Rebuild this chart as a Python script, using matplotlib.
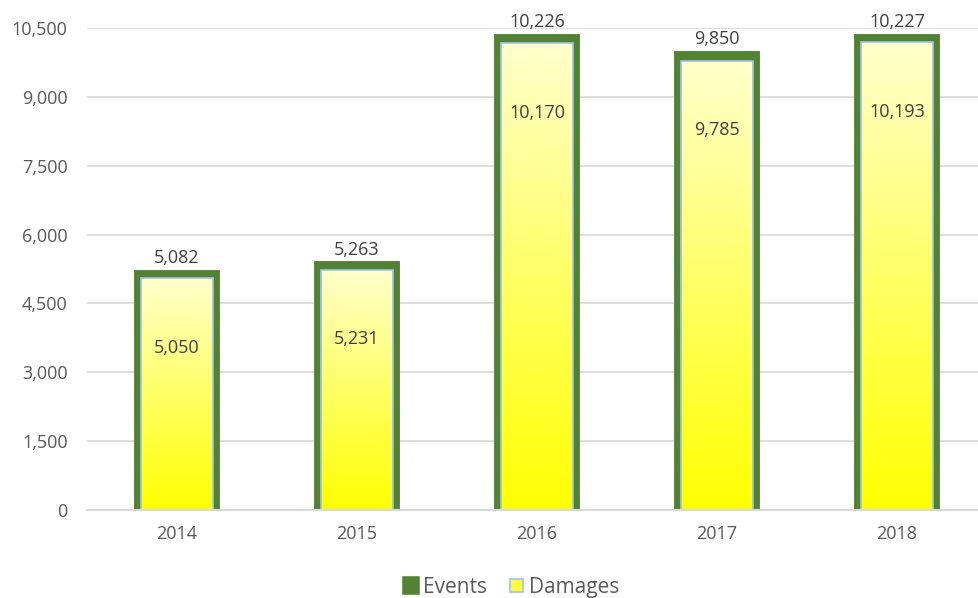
import numpy as np
import matplotlib
matplotlib.use("Agg")
import matplotlib.pyplot as plt
from matplotlib.patches import Patch
from matplotlib.ticker import FuncFormatter, MultipleLocator
from matplotlib.colors import LinearSegmentedColormap

plt.rcParams['font.family'] = ['Open Sans', 'DejaVu Sans']

years = ['2014', '2015', '2016', '2017', '2018']
events = [5082, 5263, 10226, 9850, 10227]
damages = [5050, 5231, 10170, 9785, 10193]

GREEN = '#548235'
EDGE_BLUE = '#9DC3E6'
TEXT = '#595959'
LABEL = '#404040'
GRID = '#D9D9D9'

fig = plt.figure(figsize=(9.79, 5.98), dpi=100)
ax = fig.add_axes([87 / 979, 88 / 598, 900 / 979, 482 / 598])

x = np.arange(len(years))
width = 0.4

# Events: solid green bars with a heavy outline
ax.bar(x, events, width=width, color=GREEN, edgecolor=GREEN, linewidth=10,
       zorder=2)

# Damages: overlaid bars filled with a vertical yellow gradient
dmg_bars = ax.bar(x, damages, width=width, facecolor='none',
                  edgecolor=EDGE_BLUE, linewidth=1.2, zorder=4)
grad = np.linspace(0, 1, 256).reshape(-1, 1)
cmap = LinearSegmentedColormap.from_list('ylw', ['#FFFF00', '#FFFFCC'])
for bar in dmg_bars:
    x0, y0 = bar.get_x(), bar.get_y()
    w, h = bar.get_width(), bar.get_height()
    im = ax.imshow(grad, cmap=cmap, origin='lower', aspect='auto',
                   extent=[x0, x0 + w, y0, y0 + h], zorder=3)
    clip = plt.Rectangle((x0, y0), w, h, transform=ax.transData)
    im.set_clip_path(clip)

# Value labels
for xi, v in zip(x, events):
    ax.annotate(f'{v:,}', (xi, v), xytext=(0, 7), textcoords='offset points',
                ha='center', va='bottom', fontsize=13, color=LABEL,
                clip_on=False, zorder=6)
for xi, v in zip(x, damages):
    ax.annotate(f'{v:,}', (xi, v), xytext=(0, -50), textcoords='offset points',
                ha='center', va='center', fontsize=13, color=LABEL, zorder=6)

ax.set_xlim(-0.5, len(years) - 0.5)
ax.set_ylim(0, 10500)
ax.yaxis.set_major_locator(MultipleLocator(1500))
ax.yaxis.set_major_formatter(FuncFormatter(lambda v, p: f'{int(v):,}'))
ax.set_xticks(x)
ax.set_xticklabels(years)

ax.grid(axis='y', color=GRID, linewidth=1.2, zorder=0)
ax.set_axisbelow(True)
for s in ['top', 'right', 'left']:
    ax.spines[s].set_visible(False)
ax.spines['bottom'].set_color(GRID)
ax.spines['bottom'].set_linewidth(1.5)
ax.spines['bottom'].set_zorder(5)
ax.tick_params(axis='both', length=0, labelsize=13, colors=TEXT)
ax.tick_params(axis='y', pad=14)
ax.tick_params(axis='x', pad=11)

handles = [
    Patch(facecolor=GREEN, edgecolor=GREEN, linewidth=4, label='Events'),
    Patch(facecolor='#FFFF33', edgecolor=EDGE_BLUE, linewidth=1.2,
          label='Damages'),
]
leg = fig.legend(handles=handles, loc='center', bbox_to_anchor=(0.523, 0.018),
                 ncol=2, frameon=False, fontsize=15, handlelength=0.6,
                 handleheight=0.55, handletextpad=0.3, columnspacing=1.1)
for t in leg.get_texts():
    t.set_color(TEXT)

fig.savefig('out.png', dpi=100)
